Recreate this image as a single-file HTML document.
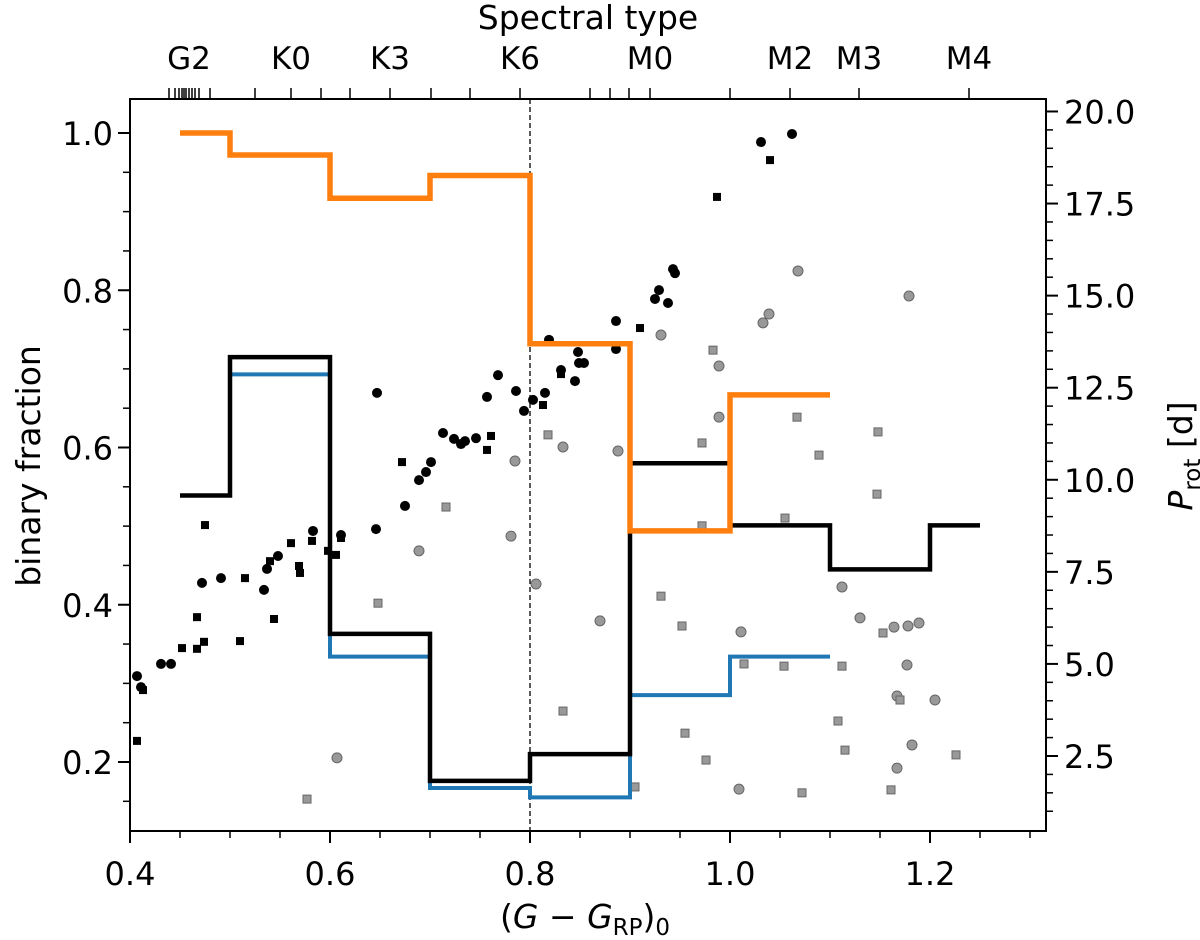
<!DOCTYPE html>
<html><head><meta charset="utf-8"><style>
body{margin:0;background:#fff}
svg{display:block;font-family:"DejaVu Sans","Liberation Sans",sans-serif}
</style></head><body>
<svg id="chart" width="1200" height="940" viewBox="0 0 1200 940">
<g id="marks"></g>
<g id="axes"></g>
</svg>
<script>
// ---- data ----
const binEdges = [0.45,0.5,0.6,0.7,0.8,0.9,1.0,1.1,1.2,1.25];
const blackFrac = [0.539,0.715,0.363,0.176,0.210,0.580,0.501,0.445,0.501];
const blueEdges = [0.45,0.5,0.6,0.7,0.8,0.9,1.0,1.1];
const blueFrac = [0.539,0.693,0.334,0.167,0.155,0.285,0.334];
const orangeEdges = [0.45,0.5,0.6,0.7,0.8,0.9,1.0,1.1];
const orangeFrac = [1.0,0.972,0.917,0.946,0.732,0.494,0.667];

const blackCircleX = [0.647,0.768,0.757,0.786,0.794,0.803,0.815,0.713,0.724,0.731,0.735,0.746,0.701,0.696,0.689,0.675,0.646,0.583,0.611,0.548,0.537,0.534,0.491,0.472,0.431,0.441,0.407,0.411,0.819,1.031,1.062,0.943,0.945,0.929,0.925,0.938,0.886,0.886,0.848,0.849,0.854,0.831,0.845];
const blackCircleP = [12.36,12.84,12.25,12.41,11.87,12.17,12.36,11.27,11.11,10.97,11.05,11.13,10.48,10.21,9.99,9.29,8.66,8.61,8.50,7.93,7.58,7.01,7.33,7.20,5.00,5.00,4.67,4.37,13.80,19.17,19.39,15.72,15.61,15.15,14.91,14.80,14.31,13.55,13.47,13.17,13.17,12.98,12.68];
const blackSquareX = [0.761,0.757,0.672,0.561,0.582,0.598,0.606,0.611,0.540,0.569,0.570,0.515,0.475,0.467,0.544,0.474,0.452,0.467,0.510,0.413,0.407,1.040,0.987,0.910,0.831,0.813];
const blackSquareP = [11.19,10.81,10.48,8.28,8.34,8.07,7.96,8.42,7.79,7.66,7.47,7.33,8.77,6.27,6.22,5.60,5.43,5.41,5.62,4.29,2.91,18.68,17.68,14.12,12.87,12.03];
const grayCircleX = [0.785,0.781,0.689,0.806,1.068,1.179,1.039,1.033,0.931,0.989,0.989,0.833,0.888,0.870,1.112,1.130,1.011,1.164,1.178,1.189,1.177,1.167,1.205,1.182,1.167,1.009,0.607];
const grayCircleP = [10.51,8.47,8.07,7.17,15.67,14.99,14.50,14.26,13.93,13.09,11.70,10.89,10.78,6.17,7.09,6.25,5.87,6.00,6.03,6.11,4.97,4.13,4.02,2.80,2.17,1.60,2.45];
const graySquareX = [0.818,0.716,0.648,0.577,0.983,1.067,1.148,1.089,0.972,1.147,1.055,0.972,0.931,0.952,1.153,1.014,1.054,1.112,1.170,0.833,1.108,0.955,0.976,1.115,1.226,0.905,1.072,1.161];
const graySquareP = [11.22,9.26,6.65,1.33,13.52,11.70,11.30,10.67,11.00,9.61,8.96,8.75,6.84,6.03,5.84,5.00,4.94,4.94,4.02,3.72,3.45,3.12,2.39,2.66,2.53,1.66,1.50,1.58];

const xTicks = [0.4,0.6,0.8,1.0,1.2];
const xTickLabels = ["0.4","0.6","0.8","1.0","1.2"];
const yTicks = [0.2,0.4,0.6,0.8,1.0];
const yTickLabels = ["0.2","0.4","0.6","0.8","1.0"];
const y2Ticks = [2.5,5,7.5,10,12.5,15,17.5,20];
const y2TickLabels = ["2.5","5.0","7.5","10.0","12.5","15.0","17.5","20.0"];
const spTypes = ["G2","K0","K3","K6","M0","M2","M3","M4"];
const spColors = [0.459,0.561,0.660,0.790,0.920,1.060,1.129,1.239];
const spMinorColors = [0.439,0.445,0.449,0.452,0.454,0.456,0.462,0.465,0.469,0.480,0.525,0.591,0.620,0.701,0.740,0.860,0.880,0.899,1.000];

// ---- scales ----
const L=130,R=1046,T=99,B=831;
const sx = v => 130 + (v-0.4)*1000;
const sy = v => 762 - (v-0.2)*786.25;
const sy2 = v => 756 - (v-2.5)*36.83;
const NS="http://www.w3.org/2000/svg";
const marks=document.getElementById('marks'), axes=document.getElementById('axes');
function mk(tag,attrs,parent){const e=document.createElementNS(NS,tag);for(const k in attrs)e.setAttribute(k,attrs[k]);parent.appendChild(e);return e;}

let dl=mk('line',{x1:sx(0.8),x2:sx(0.8),y1:T,y2:B,stroke:'#000','stroke-width':1.3,'stroke-dasharray':'5,3'},marks);



blackCircleX.forEach((x,i)=>{const c=mk('circle',{cx:sx(x),cy:sy2(blackCircleP[i]),r:5,fill:'#000'},marks);

});
blackSquareX.forEach((x,i)=>{const c=mk('rect',{x:sx(x)-4,y:sy2(blackSquareP[i])-4,width:8,height:8,fill:'#000'},marks);

});
grayCircleX.forEach((x,i)=>{const c=mk('circle',{cx:sx(x),cy:sy2(grayCircleP[i]),r:5,fill:'#999',stroke:'#666','stroke-width':1},marks);

});
graySquareX.forEach((x,i)=>{const c=mk('rect',{x:sx(x)-4,y:sy2(graySquareP[i])-4,width:8,height:8,fill:'#999',stroke:'#666','stroke-width':1},marks);

});

function stepPath(edges,vals){let d='';for(let i=0;i<vals.length;i++){d+=(i?'L':'M')+sx(edges[i])+','+sy(vals[i])+'L'+sx(edges[i+1])+','+sy(vals[i]);}return d;}
let p1=mk('path',{d:stepPath(blueEdges,blueFrac),fill:'none',stroke:'#1f77b4','stroke-width':4},marks);


let p2=mk('path',{d:stepPath(binEdges,blackFrac),fill:'none',stroke:'#000','stroke-width':4.5},marks);


let p3=mk('path',{d:stepPath(orangeEdges,orangeFrac),fill:'none',stroke:'#ff7f0e','stroke-width':5.5},marks);



let fr=mk('rect',{x:L,y:T,width:R-L,height:B-T,fill:'none',stroke:'#000','stroke-width':2},axes);



for(let k=0;k<19;k++){const v=0.4+k*0.05;if(v>1.32)break;const x=sx(v);const maj=k%4==0;mk('line',{x1:x,x2:x,y1:B,y2:B+(maj?12:7),stroke:'#000','stroke-width':maj?2:1.5},axes);}
xTicks.forEach((v,i)=>{const t=mk('text',{x:sx(v),y:885,'font-size':32,'text-anchor':'middle'},axes);t.textContent=xTickLabels[i];

});
for(let k=0;k<19;k++){const v=0.15+k*0.05;if(v>1.04)break;const maj=k%4==1;const y=sy(v);mk('line',{x1:L,x2:L-(maj?12:7),y1:y,y2:y,stroke:'#000','stroke-width':maj?2:1.5},axes);}
yTicks.forEach((v,i)=>{const t=mk('text',{x:113,y:sy(v)+12,'font-size':32,'text-anchor':'end'},axes);t.textContent=yTickLabels[i];

});
for(let k=0;k<40;k++){const v=1+k*0.5;if(v>20.3)break;const maj=Math.abs(v/2.5-Math.round(v/2.5))<0.01;const y=sy2(v);mk('line',{x1:R,x2:R+(maj?12:7),y1:y,y2:y,stroke:'#000','stroke-width':maj?2:1.5},axes);}
y2Ticks.forEach((v,i)=>{const t=mk('text',{x:1064,y:sy2(v)+12,'font-size':32},axes);t.textContent=y2TickLabels[i];

});
spMinorColors.forEach(v=>{mk('line',{x1:sx(v),x2:sx(v),y1:T,y2:T-11,stroke:'#000','stroke-width':1.5},axes);});
spColors.forEach((v,i)=>{mk('line',{x1:sx(v),x2:sx(v),y1:T,y2:T-11,stroke:'#000','stroke-width':1.5},axes);
const t=mk('text',{x:sx(v),y:69,'font-size':31,'text-anchor':'middle'},axes);t.textContent=spTypes[i];

});
</script>
<svg width="1200" height="940" style="position:absolute;left:0;top:0" font-family="DejaVu Sans, Liberation Sans, sans-serif">
<text x="588" y="29" font-size="33" text-anchor="middle">Spectral type</text>
<text transform="translate(40,466) rotate(-90)" font-size="33" text-anchor="middle">binary fraction</text>
<text transform="translate(1192,456) rotate(-90)" font-size="33" text-anchor="middle"><tspan font-style="italic">P</tspan><tspan font-size="23" dy="8">rot</tspan><tspan dy="-8"> [d]</tspan></text>
<text x="585" y="928" font-size="33" text-anchor="middle">(<tspan font-style="italic">G</tspan> − <tspan font-style="italic">G</tspan><tspan font-size="23" dy="7">RP</tspan><tspan dy="-7">)</tspan><tspan font-size="23" dy="7">0</tspan></text>
</svg>
</body></html>
